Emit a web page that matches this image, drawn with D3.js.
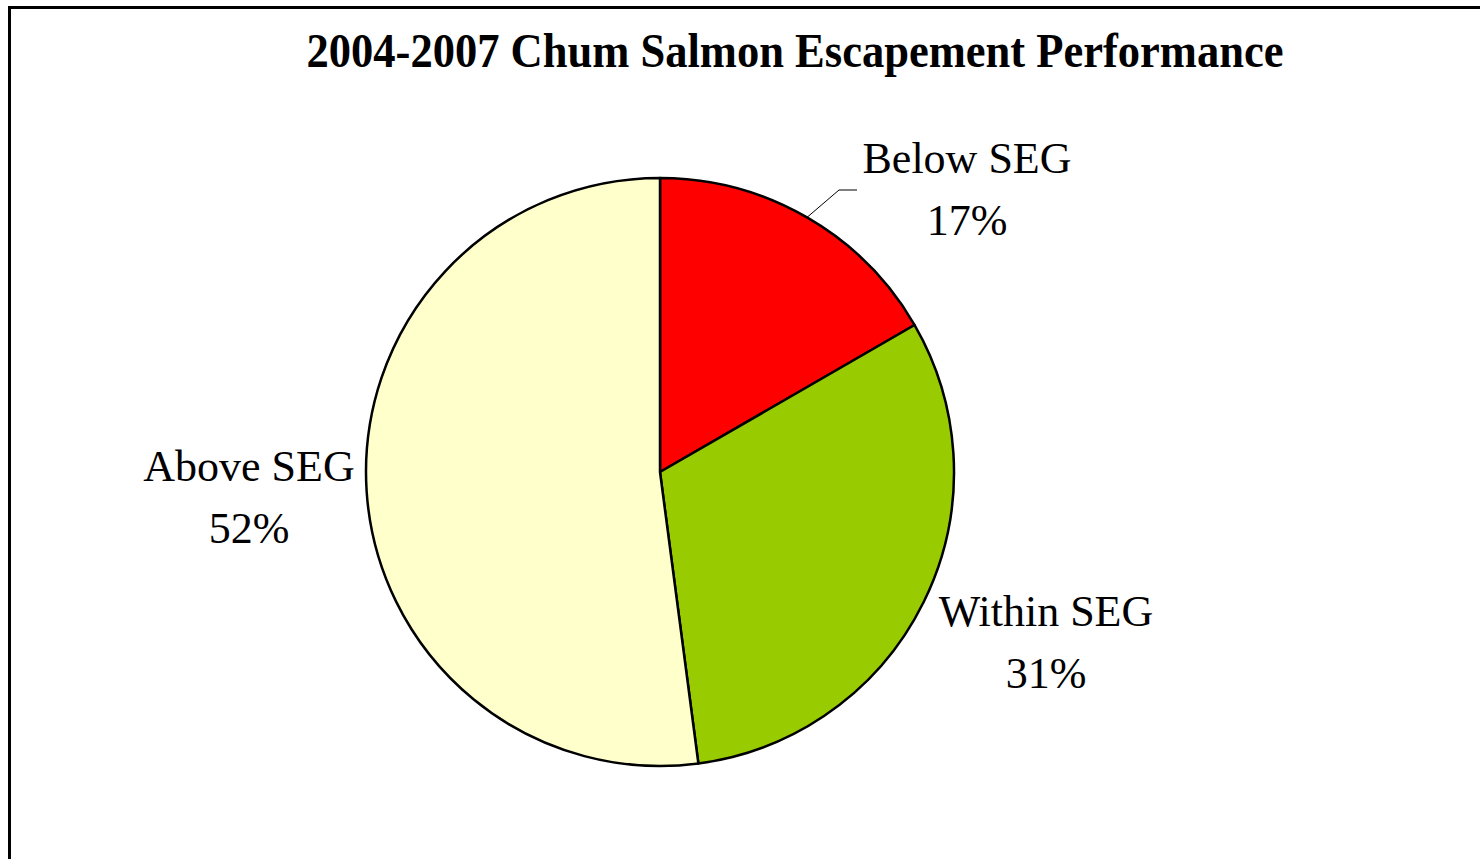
<!DOCTYPE html>
<html lang="en">
<head>
<meta charset="UTF-8">
<title>Chum Salmon Escapement Performance</title>
<script src="https://d3js.org/d3.v7.min.js"></script>
<style>
  body { margin: 0; background: #fff; }
  svg text { font-family: "Liberation Serif", "Times New Roman", serif; fill: #000; }
</style>
</head>
<body>
<svg id="chart" width="1480" height="859"></svg>
<script>
// data (counts of escapement outcomes, 2004-2007)
var categories = ["Below SEG", "Within SEG", "Above SEG"];
var counts = [8, 15, 25];
var colors = ["#FF0000", "#99CC00", "#FFFFCC"];
var title = "2004-2007 Chum Salmon Escapement Performance";

var svg = d3.select("#chart");

// outer frame
svg.append("rect")
    .attr("x", 9.5).attr("y", 7.5)
    .attr("width", 1480).attr("height", 870)
    .attr("fill", "none")
    .attr("stroke", "#000")
    .attr("stroke-width", 3);

svg.append("text")
    .attr("x", 795).attr("y", 67)
    .attr("text-anchor", "middle")
    .attr("font-size", 48)
    .attr("font-weight", "bold")
    .attr("textLength", 977)
    .attr("lengthAdjust", "spacingAndGlyphs")
    .text(title);

var cx = 660, cy = 472, r = 294;

var data = categories.map(function(c, i) { return { name: c, value: counts[i], color: colors[i] }; });
var total = d3.sum(counts);

var pie = d3.pie().sort(null).value(function(d) { return d.value; });
var arc = d3.arc().innerRadius(0).outerRadius(r);
var arcs = pie(data);

var g = svg.append("g").attr("transform", "translate(" + cx + "," + cy + ")");

g.selectAll("path")
    .data(arcs)
    .enter()
    .append("path")
    .attr("d", arc)
    .attr("fill", function(d) { return d.data.color; })
    .attr("stroke", "#000")
    .attr("stroke-width", 2.5)
    .attr("stroke-linejoin", "round");

// label placement (centre x, baseline of first line) relative to pie centre
var labelPos = [[307, -299], [386, 154], [-411, 9]];
var lineGap = 62;

arcs.forEach(function(d, i) {
    var lx = labelPos[i][0], ly = labelPos[i][1];
    var t = g.append("text")
        .attr("text-anchor", "middle")
        .attr("font-size", 44);
    t.append("tspan").attr("x", lx).attr("y", ly).text(d.data.name);
    t.append("tspan").attr("x", lx).attr("y", ly + lineGap)
        .text(Math.round(d.data.value / total * 100) + "%");
});

// leader line for the small slice
var a0 = arcs[0];
var mid = (a0.startAngle + a0.endAngle) / 2;
var p0 = [r * Math.sin(mid), -r * Math.cos(mid)];
g.append("polyline")
    .attr("points", [p0, [179, -282], [197, -282]].map(function(p) { return p.join(","); }).join(" "))
    .attr("fill", "none")
    .attr("stroke", "#000")
    .attr("stroke-width", 1);
</script>
</body>
</html>
